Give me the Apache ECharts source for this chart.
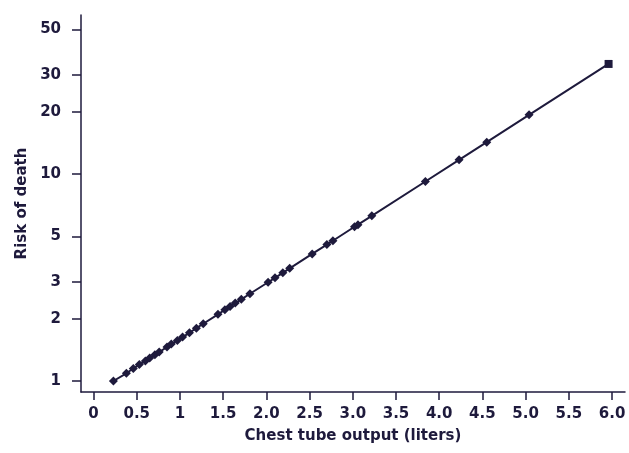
<!DOCTYPE html>
<html>
<head>
<meta charset="utf-8">
<script src="https://cdn.jsdelivr.net/npm/echarts@6/dist/echarts.min.js"></script>
<style>html,body{margin:0;padding:0;background:#fff;}#c{width:629px;height:453px;}</style>
</head>
<body>
<div id="c"></div>
<script>
// Chest tube output (liters)
var outputLiters = [0.23, 0.38, 0.46, 0.53, 0.60, 0.65, 0.71, 0.76, 0.85, 0.90, 0.97, 1.03, 1.11, 1.19, 1.27, 1.44, 1.52, 1.58, 1.64, 1.71, 1.81, 2.02, 2.10, 2.19, 2.27, 2.53, 2.70, 2.77, 3.02, 3.06, 3.22, 3.84, 4.23, 4.55, 5.04, 5.96];
// Risk of death
var riskOfDeath = [1.00, 1.09, 1.15, 1.20, 1.25, 1.29, 1.34, 1.38, 1.46, 1.51, 1.57, 1.63, 1.71, 1.80, 1.89, 2.10, 2.21, 2.29, 2.38, 2.48, 2.64, 3.00, 3.15, 3.33, 3.50, 4.11, 4.56, 4.76, 5.56, 5.69, 6.28, 9.20, 11.7, 14.25, 19.3, 34.0];
var xTicks = [0, 0.5, 1, 1.5, 2, 2.5, 3, 3.5, 4, 4.5, 5, 5.5, 6];
var xTickLabels = ['0', '0.5', '1', '1.5', '2.0', '2.5', '3.0', '3.5', '4.0', '4.5', '5.0', '5.5', '6.0'];
var yTicks = [1, 2, 3, 5, 10, 20, 30, 50];

var ink = '#1e1a3c';
var data = outputLiters.map(function (x, i) {
  var item = { value: [x, riskOfDeath[i]] };
  if (i === outputLiters.length - 1) { item.symbol = 'rect'; item.symbolSize = 8; }
  return item;
});
var font = 'DejaVu Sans';
var chart = echarts.init(document.getElementById('c'));
chart.setOption({
  animation: false,
  backgroundColor: '#ffffff',
  grid: { left: 81, right: 4, top: 15, bottom: 61, containLabel: false },
  xAxis: {
    type: 'value',
    min: -0.145,
    max: 6.15,
    name: 'Chest tube output (liters)',
    nameLocation: 'middle',
    nameGap: 37,
    nameTextStyle: { color: ink, fontFamily: font, fontWeight: 'bold', fontSize: 15 },
    axisLine: { show: true, onZero: false, lineStyle: { color: ink, width: 1.5 } },
    axisTick: { show: true, length: 8, lineStyle: { color: ink, width: 1.5 }, customValues: xTicks },
    axisLabel: {
      color: ink, fontFamily: font, fontWeight: 'bold', fontSize: 15, margin: 15,
      customValues: xTicks,
      formatter: function (v) { var i = xTicks.indexOf(v); return i >= 0 ? xTickLabels[i] : ''; }
    },
    splitLine: { show: false }
  },
  yAxis: {
    type: 'log',
    logBase: 10,
    min: 0.885,
    max: 58.6,
    name: 'Risk of death',
    nameLocation: 'middle',
    nameGap: 50,
    nameRotate: 90,
    nameTextStyle: { color: ink, fontFamily: font, fontWeight: 'bold', fontSize: 15 },
    axisLine: { show: true, onZero: false, lineStyle: { color: ink, width: 1.5 } },
    axisTick: { show: true, length: 9, lineStyle: { color: ink, width: 1.5 }, customValues: yTicks },
    axisLabel: {
      color: ink, fontFamily: font, fontWeight: 'bold', fontSize: 15, margin: 20,
      customValues: yTicks,
      formatter: function (v) { return String(Math.round(v)); }
    },
    splitLine: { show: false }
  },
  series: [{
    type: 'line',
    data: data,
    symbol: 'diamond',
    symbolSize: 9,
    showAllSymbol: true,
    lineStyle: { color: ink, width: 2 },
    itemStyle: { color: ink, borderWidth: 0 }
  }]
});
</script>
</body>
</html>
